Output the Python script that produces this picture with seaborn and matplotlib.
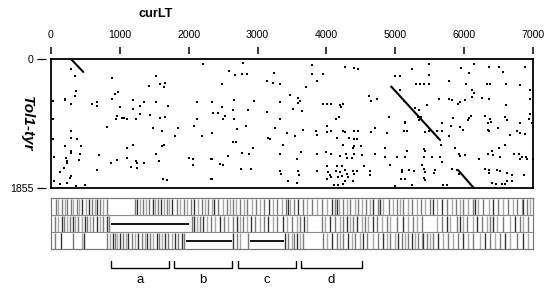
import matplotlib
matplotlib.use("Agg")
import matplotlib.pyplot as plt
import pandas as pd
import seaborn as sns

# ---------------- data ----------------
x_ticks = [0, 1000, 2000, 3000, 4000, 5000, 6000, 7000]
y_ticks = [0, 1855]
x_max = 7000
y_max = 1855
x_title = "curLT"
y_title = "Tol1-tyr"

dots_x = [
    286, 350, 360, 350, 205, 205, 286, 25, 25, 880, 1525, 1420, 1585, 1655, 1640, 970, 935, 885, 665, 600,
    665, 1195, 1350, 1525, 1290, 1705, 2115, 1000, 1190, 955, 945, 1025, 1060, 1110, 1235, 1290, 1440, 1585, 1655, 2115, 2210,
    2790, 2585, 2670, 2770, 2840, 3240, 3785, 3785, 3945, 4270, 4400, 4460, 3140, 3230, 3325, 3860, 3705, 2480, 3470, 3590,
    3615, 3580, 2335, 2655, 2950, 3325, 3955, 4005, 4060, 4195, 4245, 4210, 4620, 4645, 2490, 2355, 2420, 2640, 2865, 3140,
    3510, 3640, 2525, 2500, 2660, 3325, 4180, 4140,
    5495, 5240, 4990, 5070, 5495, 5960, 6140, 6355, 6500, 6560, 6885, 6075, 5300, 5360, 5410, 5495, 5785, 6025, 6330, 6380,
    6605, 6815, 5070, 6115, 6140, 6960, 4735, 5120, 5630, 5775, 5825, 5945, 5910, 6015, 6115, 6260, 6355, 6605, 6960, 5290,
    5340, 5460, 4910, 5145, 5330, 5375, 5340, 5675, 5835, 6065, 6055, 6105, 6305, 6380, 6395, 6595, 6620, 6815, 6935, 6960,
    815, 285, 285, 380, 35, 205, 430, 285, 285, 420, 695, 45, 215, 235, 230, 405, 190, 130, 285, 275,
    45, 230, 130, 365, 495, 865, 955, 1100, 1185, 1100, 1235, 1255, 1355, 1160, 1255, 665, 1525, 1485, 1605, 1850,
    2075, 1800, 2190, 1605, 1645, 1575, 2010, 2065, 2065, 2325, 2325, 1630, 1680,
    2830, 2705, 2335, 3250, 3430, 3545, 3655, 3850, 3860, 4005, 4005, 4060, 4245, 4270, 4400, 4460, 4645, 3155, 3180, 2645,
    2685, 2935, 3365, 4155, 4330, 4400, 4450, 4245, 4380, 4400, 4495, 2770, 2880, 2575, 2335, 3325, 3625, 3575, 3860, 3995,
    4060, 4195, 4285, 4300, 4365, 4400, 4510, 2455, 2495, 2755, 2900, 3325, 3335, 3590, 3605, 3860, 4005, 4025, 4050, 4155,
    4220, 4140, 4195, 4270, 4295, 4380, 4400, 4450, 4545, 4630, 4630, 2335, 3445, 3575, 4005, 4060, 4170, 4220, 4270, 4245,
    4170, 4390, 4315, 4110,
    4710, 4880, 5120, 5170, 5145, 5435, 5495, 5605, 5675, 5810, 5945, 5990, 6345, 6345, 6365, 6490, 6660, 6765, 6815, 6885,
    6985, 5775, 4855, 4710, 4855, 5025, 5145, 5170, 5410, 5435, 5410, 5665, 5530, 5655, 5860, 5930, 5945, 6015, 6210, 6345,
    6405, 6415, 6510, 6595, 6525, 6720, 6790, 6840, 6815, 6895, 6910, 6995, 5675, 4925, 5095, 5095, 5205, 5265, 5385, 5410,
    5435, 5555, 5580, 5825, 5895, 5920, 6305, 6355, 6365, 6475, 6525, 6620, 6695, 6865, 5085, 5145, 5410, 5435, 5000, 5240,
    5700, 5750, 6405, 6460, 6550, 6595, 6620, 6695,
]
dots_y = [
    140, 250, 460, 536, 570, 590, 643, 610, 867, 270, 245, 390, 355, 340, 405, 475, 510, 575, 620, 650,
    672, 590, 615, 615, 680, 670, 615, 690, 725, 825, 865, 855, 855, 865, 865, 795, 810, 855, 830, 865, 75,
    55, 170, 235, 220, 220, 195, 85, 210, 210, 115, 135, 145, 315, 345, 355, 315, 400, 365, 515, 560,
    605, 635, 615, 585, 600, 625, 645, 645, 645, 655, 645, 690, 530, 610, 690, 775, 770, 740, 740, 760,
    725, 750, 825, 865, 865, 860, 830, 865,
    75, 150, 245, 245, 235, 125, 75, 115, 115, 190, 115, 195, 355, 355, 355, 355, 320, 355, 355, 355,
    355, 375, 450, 450, 490, 440, 580, 610, 570, 570, 595, 620, 645, 595, 545, 555, 570, 665, 580, 705,
    730, 655, 835, 905, 835, 835, 875, 920, 845, 845, 880, 825, 825, 860, 905, 835, 880, 920, 860, 795,
    980, 1035, 1130, 1145, 1155, 1250, 1255, 1325, 1350, 1360, 1385, 1410, 1420, 1465, 1500, 1455, 1565, 1625, 1685, 1710,
    1760, 1780, 1795, 1830, 1810, 1490, 1450, 1275, 1230, 1420, 1470, 1490, 1495, 1555, 1565, 1590, 1360, 990, 1040, 990,
    965, 1110, 1110, 1250, 1230, 1465, 1420, 1435, 1520, 1435, 1720, 1720, 1745,
    965, 1010, 1060, 990, 1060, 1110, 1025, 1035, 1095, 965, 1050, 1040, 1040, 1050, 1040, 1040, 1050, 1130, 1145, 1195,
    1195, 1275, 1230, 1130, 1130, 1145, 1145, 1240, 1275, 1250, 1250, 1350, 1370, 1395, 1435, 1360, 1335, 1435, 1360, 1335,
    1370, 1400, 1360, 1425, 1425, 1360, 1385, 1515, 1530, 1585, 1575, 1615, 1650, 1610, 1665, 1610, 1540, 1625, 1670, 1540,
    1540, 1615, 1625, 1600, 1650, 1610, 1650, 1615, 1545, 1615, 1670, 1730, 1760, 1780, 1730, 1695, 1695, 1685, 1760, 1795,
    1810, 1760, 1695, 1810,
    990, 1060, 1035, 1035, 920, 1050, 1040, 1040, 1040, 965, 980, 1025, 920, 1025, 1040, 990, 1095, 1035, 1060, 1075,
    920, 1110, 1280, 1360, 1410, 1410, 1410, 1325, 1290, 1325, 1410, 1240, 1410, 1410, 1280, 1360, 1395, 1385, 1435, 1360,
    1325, 1385, 1280, 1230, 1410, 1360, 1360, 1410, 1435, 1410, 1445, 1435, 1480, 1520, 1600, 1625, 1600, 1615, 1520, 1575,
    1625, 1635, 1600, 1575, 1600, 1650, 1575, 1600, 1635, 1600, 1615, 1635, 1670, 1665, 1720, 1720, 1710, 1745, 1830, 1810,
    1810, 1815, 1780, 1795, 1795, 1795, 1760, 1760,
]

# diagonal (collinear) runs
diag_id = ["A", "A", "B", "B", "C", "C"]
diag_x = [300, 469, 4940, 5650, 5915, 6140]
diag_y = [10, 187, 395, 1165, 1600, 1855]

# barcode tracks: (position, shade) 0 = dark, 1 = mid, 2 = light
track_row1 = [
    (68, 1), (106, 2), (155, 1), (203, 2), (237, 1), (286, 1), (324, 2), (373, 1), (411, 2), (446, 0), (508, 2),
    (556, 0), (591, 1), (639, 2), (672, 0), (711, 1), (759, 2), (809, 1),
    (1220, 1), (1253, 0), (1292, 2), (1340, 1), (1379, 2), (1427, 1), (1477, 0), (1510, 2), (1558, 1), (1593, 0),
    (1641, 2), (1680, 1), (1718, 2), (1753, 0), (1825, 1), (1873, 2), (1931, 1), (1970, 2), (2028, 1), (2076, 0),
    (2139, 2), (2188, 1), (2236, 2), (2284, 1), (2333, 2), (2367, 0), (2429, 1), (2493, 2), (2551, 1), (2599, 2),
    (2647, 1), (2686, 2), (2744, 1), (2802, 2), (2850, 1), (2914, 2), (2977, 1), (3035, 2), (3093, 1), (3170, 0),
    (3228, 2), (3286, 1), (3350, 2), (3412, 1), (3446, 0), (3470, 2), (3528, 1), (3591, 0),
    (3655, 1), (3721, 2), (3785, 1), (3858, 2), (3931, 1), (4012, 2), (4076, 0), (4124, 1), (4148, 0), (4186, 2),
    (4244, 1), (4302, 2), (4341, 1), (4414, 2), (4462, 1), (4511, 2), (4574, 1), (4632, 2), (4680, 0), (4752, 1),
    (4777, 0), (4825, 2), (4912, 1), (4970, 2), (5020, 1), (5067, 2), (5115, 1), (5188, 2), (5237, 1), (5310, 2),
    (5368, 1), (5430, 2), (5503, 1), (5551, 0), (5609, 2), (5673, 0), (5746, 1), (5818, 2), (5881, 1), (5939, 2),
    (5987, 1), (6059, 2), (6132, 1), (6157, 0), (6204, 2), (6277, 1), (6364, 2), (6422, 0), (6495, 1), (6567, 2),
    (6640, 1), (6704, 2), (6762, 1), (6834, 2), (6858, 0), (6907, 1), (6955, 2),
]
track_row2 = [
    (58, 1), (106, 2), (155, 0), (189, 1), (228, 2), (276, 1), (324, 0), (348, 2), (397, 1), (446, 2), (494, 0),
    (518, 1), (566, 2), (615, 1), (663, 0), (711, 2), (759, 1), (809, 0), (847, 1),
    (2043, 1), (2076, 0), (2116, 2), (2163, 1), (2211, 0), (2261, 2), (2319, 1), (2381, 2), (2454, 0), (2512, 1),
    (2575, 2), (2638, 1), (2696, 0), (2744, 2), (2783, 1), (2842, 2), (2900, 0), (2962, 1), (3035, 2), (3093, 1),
    (3155, 0), (3228, 2), (3286, 1), (3364, 0), (3422, 2), (3495, 1), (3568, 2),
    (3615, 1), (3673, 0), (3712, 2), (3931, 1), (3979, 2), (4052, 0), (4124, 1), (4197, 2), (4244, 1), (4293, 0),
    (4341, 2), (4390, 1), (4438, 0), (4510, 2), (4559, 1), (4607, 2), (4680, 0), (4738, 1), (4801, 2), (4873, 1),
    (4921, 2), (5018, 1), (5115, 0), (5188, 2), (5260, 1), (5310, 2), (5382, 1), (5600, 2), (5673, 1), (5746, 0),
    (5794, 2), (5891, 1), (5939, 0), (5987, 2), (6036, 1), (6132, 2), (6181, 0), (6253, 1), (6326, 2), (6374, 1),
    (6422, 0), (6471, 2), (6568, 1), (6665, 2), (6738, 0), (6810, 1), (6858, 2), (6931, 1),
]
track_row3 = [
    (58, 1), (141, 0), (324, 1), (446, 2), (479, 0),
    (809, 1), (857, 2), (896, 0), (929, 1), (963, 2), (1002, 0), (1050, 1), (1089, 2), (1122, 0), (1172, 1),
    (1220, 2), (1268, 0), (1317, 1), (1365, 2), (1398, 0), (1437, 1), (1486, 2), (1535, 0), (1573, 1), (1607, 2),
    (1655, 0), (1703, 1), (1753, 2), (1801, 0), (1848, 1), (1898, 0), (1931, 1),
    (2647, 0), (2705, 1), (2744, 2), (2865, 1), (3398, 0), (3446, 1), (3495, 2), (3528, 1), (3568, 0), (3615, 2),
    (3664, 1),
    (3954, 1), (4003, 2), (4076, 0), (4148, 1), (4197, 2), (4244, 1), (4317, 0), (4366, 2), (4414, 1), (4487, 2),
    (4535, 0), (4583, 1), (4680, 2), (4752, 1), (4825, 0), (4873, 2), (4921, 1), (4994, 2), (5042, 0), (5091, 1),
    (5140, 2), (5188, 1), (5237, 0), (5285, 2), (5333, 1), (5382, 2), (5405, 0), (5454, 1), (5503, 2), (5551, 1),
    (5623, 0), (5696, 2), (5770, 1), (5842, 2), (5915, 1), (5987, 0), (6060, 2), (6132, 1), (6229, 2), (6301, 0),
    (6374, 1), (6447, 2), (6519, 1), (6592, 0), (6665, 2), (6762, 1), (6858, 0), (6931, 2),
]
track_rows = [track_row1, track_row2, track_row3]
track_spans = [[], [(871, 2004)], [(1960, 2628), (2894, 3379)]]

region_labels = ["a", "b", "c", "d"]
region_start = [870, 1790, 2710, 3630]
region_end = [1715, 2625, 3555, 4510]

# ---------------- style ----------------
sns.set_theme(style="white")
plt.rcParams["font.family"] = ["Liberation Sans", "DejaVu Sans"]
shade_colors = {0: "#333333", 1: "#7a7a7a", 2: "#a8a8a8"}

W, H = 550, 292
fig = plt.figure(figsize=(W / 100, H / 100), dpi=100)

# ---------------- dot plot ----------------
ax = fig.add_axes([51 / W, 1 - 188 / H, 482 / W, 129 / H])
dots = pd.DataFrame({"x": dots_x, "y": dots_y})
sns.scatterplot(data=dots, x="x", y="y", marker="s", s=3.0, color="black",
                linewidth=0, ax=ax, legend=False)
diag = pd.DataFrame({"seg": diag_id, "x": diag_x, "y": diag_y})
sns.lineplot(data=diag, x="x", y="y", units="seg", estimator=None, sort=False,
             color="black", linewidth=1.5, ax=ax, legend=False)
ax.set_xlim(0, x_max)
ax.set_ylim(y_max, 0)
ax.set_xticks([])
ax.set_yticks([])
ax.set_xlabel("")
for sp in ax.spines.values():
    sp.set_visible(True)
    sp.set_color("black")
    sp.set_linewidth(1.3)

ax.set_ylabel(y_title, rotation=270, fontsize=11, fontweight="bold",
              fontstyle="italic", ha="center", va="center", color="black")
ax.yaxis.set_label_coords((27 - 51) / 482, 0.5)

top = ax.secondary_xaxis(1 + 5 / 129)
top.set_xticks(x_ticks)
top.set_xticklabels([str(t) for t in x_ticks])
top.tick_params(axis="x", direction="out", length=4.8, width=1.1, pad=5.5,
                labelsize=7.6, colors="black", top=True, labeltop=True,
                bottom=False, labelbottom=False)
for sp in top.spines.values():
    sp.set_visible(False)

left = ax.secondary_yaxis(-5 / 482)
left.set_yticks(y_ticks)
left.set_yticklabels([str(t) for t in y_ticks])
left.tick_params(axis="y", direction="out", length=6.8, width=0.9, pad=2,
                 labelsize=7.6, colors="black", left=True, labelleft=True,
                 right=False, labelright=False)
for sp in left.spines.values():
    sp.set_visible(False)

fig.text(156 / W, 1 - 14 / H, x_title, ha="center", va="center",
         fontsize=9.2, fontweight="bold", color="black")

# ---------------- barcode tracks ----------------
tax = fig.add_axes([51 / W, 1 - 249.3 / H, 482 / W, 51.3 / H])
tax.set_xlim(0, x_max)
tax.set_ylim(3, 0)
for r, row in enumerate(track_rows):
    xs = [p for p, _ in row]
    cols = [shade_colors[s] for _, s in row]
    tax.vlines(xs, r + 0.03, r + 0.97, colors=cols, linewidth=1.0)
for r, spans in enumerate(track_spans):
    for a, b in spans:
        tax.hlines(r + 0.5, a, b, color="black", linewidth=1.3)
tax.hlines([1, 2], 0, x_max, color="#8c8c8c", linewidth=0.8)
tax.set_xticks([])
tax.set_yticks([])
for sp in tax.spines.values():
    sp.set_visible(True)
    sp.set_color("#7a7a7a")
    sp.set_linewidth(0.9)

# ---------------- region brackets ----------------
bax = fig.add_axes([51 / W, 0, 482 / W, 34 / H])
bax.set_xlim(0, x_max)
bax.set_ylim(0, 1)
bax.axis("off")
for lab, s, e in zip(region_labels, region_start, region_end):
    bax.plot([s, s, e, e], [0.91, 0.715, 0.715, 0.91], color="black",
             linewidth=1.0, solid_joinstyle="miter")
    bax.text((s + e) / 2, 0.36, lab, ha="center", va="center",
             fontsize=9.5, color="black")

fig.savefig("out.png", dpi=100)
